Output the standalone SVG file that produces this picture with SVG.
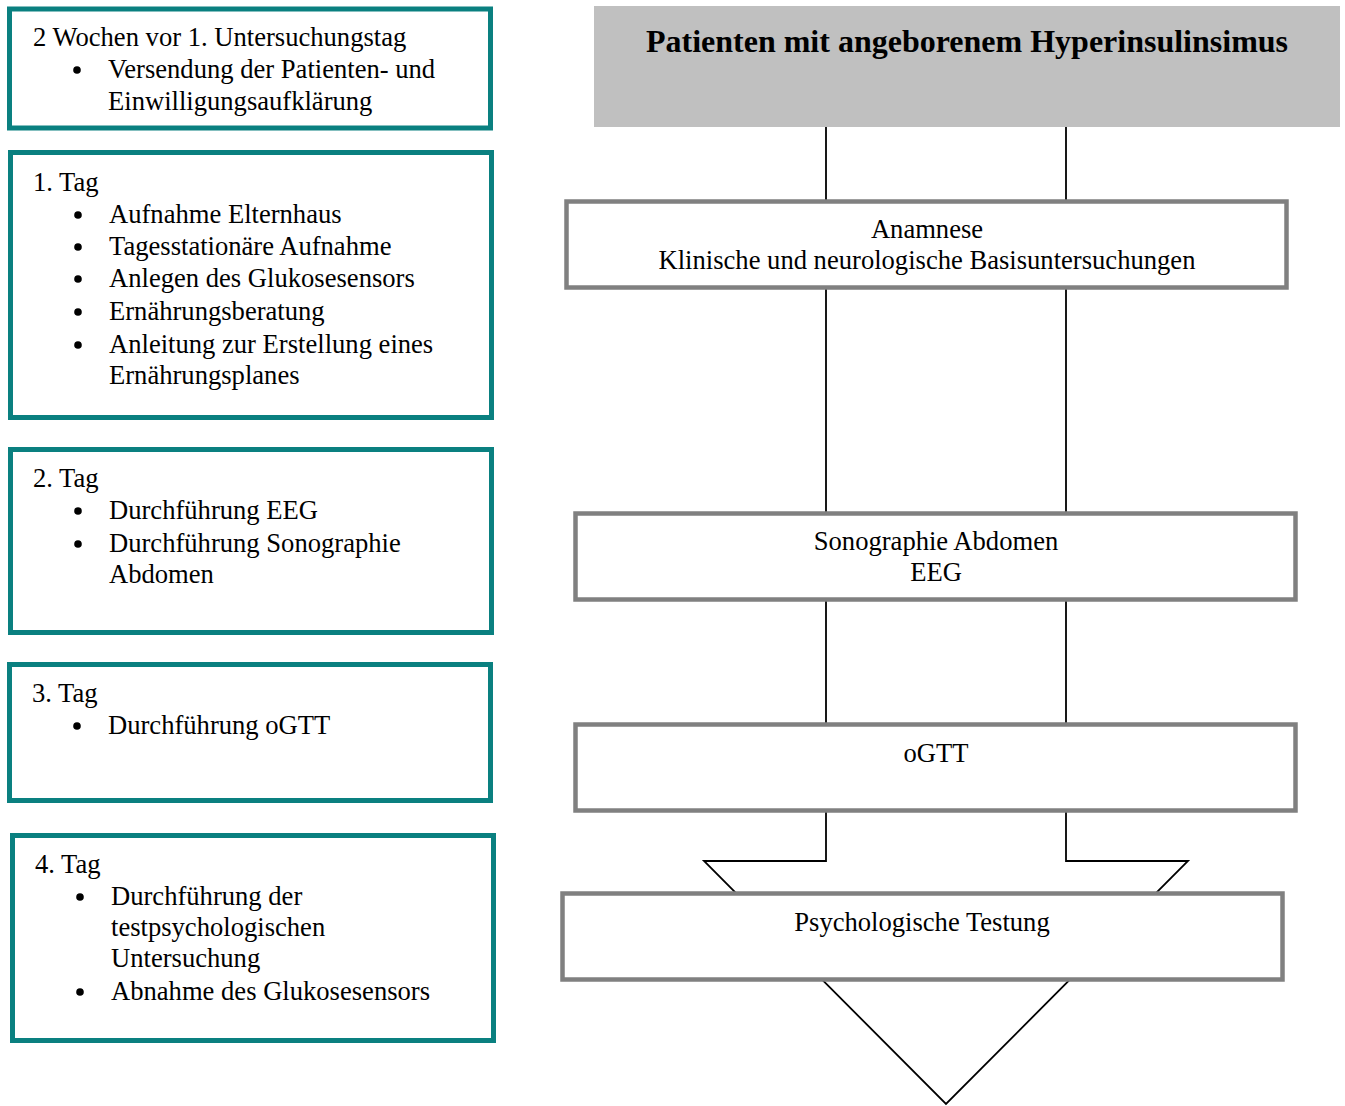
<svg xmlns="http://www.w3.org/2000/svg" width="1345" height="1106" viewBox="0 0 1345 1106">
<defs>
<style>
.t{font-family:"Liberation Serif","Times New Roman",serif;font-size:26.6px;fill:#000}
.c{text-anchor:middle}
.b{font-weight:bold;font-size:32px}
.tb{fill:#fff;stroke:#0a8080;stroke-width:5}
.gb{fill:#fff;stroke:#808080;stroke-width:4.5}
.dot{fill:#000}
.arr{fill:#fff;stroke:#000;stroke-width:1.8;stroke-linejoin:miter}
</style>
</defs>
<rect width="1345" height="1106" fill="#fff"/>

<g id="connectors">
<polygon class="arr" points="826,100 1066,100 1066,861 1188,861 946,1104 704,861 826,861"/>
</g>

<g id="step0">
<rect class="tb" x="9.5" y="9" width="481" height="119"/>
<text class="t" x="33" y="46">2 Wochen vor 1. Untersuchungstag</text>
<circle class="dot" cx="77" cy="70" r="3.8"/>
<text class="t" x="108" y="78">Versendung der Patienten- und</text>
<text class="t" x="108" y="110">Einwilligungsaufklärung</text>
</g>

<g id="day1">
<rect class="tb" x="10.5" y="152.5" width="481" height="265"/>
<text class="t" x="33" y="191">1. Tag</text>
<circle class="dot" cx="78" cy="215" r="3.8"/>
<text class="t" x="109" y="223">Aufnahme Elternhaus</text>
<circle class="dot" cx="78" cy="247" r="3.8"/>
<text class="t" x="109" y="255">Tagesstationäre Aufnahme</text>
<circle class="dot" cx="78" cy="279" r="3.8"/>
<text class="t" x="109" y="287">Anlegen des Glukosesensors</text>
<circle class="dot" cx="78" cy="312" r="3.8"/>
<text class="t" x="109" y="320">Ernährungsberatung</text>
<circle class="dot" cx="78" cy="345" r="3.8"/>
<text class="t" x="109" y="353">Anleitung zur Erstellung eines</text>
<text class="t" x="109" y="384">Ernährungsplanes</text>
</g>

<g id="day2">
<rect class="tb" x="10.5" y="449.5" width="481" height="183"/>
<text class="t" x="33" y="487">2. Tag</text>
<circle class="dot" cx="78" cy="511" r="3.8"/>
<text class="t" x="109" y="519">Durchführung EEG</text>
<circle class="dot" cx="78" cy="544" r="3.8"/>
<text class="t" x="109" y="552">Durchführung Sonographie</text>
<text class="t" x="109" y="583">Abdomen</text>
</g>

<g id="day3">
<rect class="tb" x="9.5" y="664.5" width="481" height="136"/>
<text class="t" x="32" y="702">3. Tag</text>
<circle class="dot" cx="77" cy="726" r="3.8"/>
<text class="t" x="108" y="734">Durchführung oGTT</text>
</g>

<g id="day4">
<rect class="tb" x="12.5" y="835.5" width="481" height="205"/>
<text class="t" x="35" y="873">4. Tag</text>
<circle class="dot" cx="80" cy="897" r="3.8"/>
<text class="t" x="111" y="905">Durchführung der</text>
<text class="t" x="111" y="936">testpsychologischen</text>
<text class="t" x="111" y="967">Untersuchung</text>
<circle class="dot" cx="80" cy="992" r="3.8"/>
<text class="t" x="111" y="1000">Abnahme des Glukosesensors</text>
</g>

<g id="header">
<rect x="594" y="6" width="746" height="121" fill="#c0c0c0"/>
<text class="t c b" x="967" y="52">Patienten mit angeborenem Hyperinsulinsimus</text>
</g>

<g id="anamnese">
<rect class="gb" x="566.5" y="201.5" width="720" height="86"/>
<text class="t c" x="927" y="238">Anamnese</text>
<text class="t c" x="927" y="269">Klinische und neurologische Basisuntersuchungen</text>
</g>

<g id="sono">
<rect class="gb" x="575.5" y="513.5" width="720" height="86"/>
<text class="t c" x="936" y="550">Sonographie Abdomen</text>
<text class="t c" x="936" y="581">EEG</text>
</g>

<g id="ogtt">
<rect class="gb" x="575.5" y="724.5" width="720" height="86"/>
<text class="t c" x="936" y="762">oGTT</text>
</g>

<g id="psych">
<rect class="gb" x="562.5" y="893.5" width="720" height="86"/>
<text class="t c" x="922" y="931">Psychologische Testung</text>
</g>
</svg>
